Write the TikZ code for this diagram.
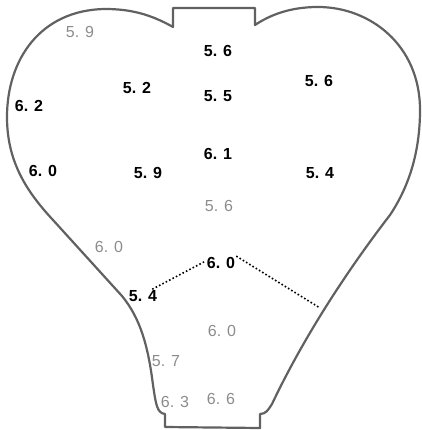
\documentclass[tikz,border=0pt]{standalone}
\usepackage{fontspec}
\setmainfont{Liberation Sans}
\usepackage{tikz}
\tikzset{
  wall/.style={draw=black!62, line width=2.2pt, line join=round},
  val/.style={text=black, font=\fontsize{16}{18}\selectfont\bfseries, inner sep=1pt},
  faint/.style={text=black!45, font=\fontsize{16}{18}\selectfont, inner sep=1pt},
  dots/.style={dash pattern=on 1.6pt off 2.2pt, line width=1.6pt, draw=black}
}

\begin{document}
\begin{tikzpicture}[x=1pt, y=-1pt]
  \useasboundingbox (0,0) rectangle (421,430);
  % outline of the room
  \draw[wall] (173,27) .. controls (150,14) and (130,9) .. (105,9)
    .. controls (40,10) and (7,60) .. (7,117)
    .. controls (7,160) and (25,190) .. (53,220)
    -- (122,296) .. controls (140,318) and (148,345) .. (153,385)
    .. controls (156,405) and (157,413) .. (165,414)
    -- (165,427) -- (260,428) -- (260,414)
    .. controls (266,414) and (268,410) .. (272,404)
    .. controls (300,345) and (340,280) .. (390,215)
    .. controls (410,185) and (420,150) .. (420,110)
    .. controls (420,45) and (370,7) .. (318,7)
    .. controls (290,7) and (270,15) .. (255,25)
    -- (255,8) -- (173,8) -- cycle;

  \node[faint] (tl59) at (80,32) {5. 9};
  \node[val] (top56) at (218,51) {5. 6};
  \node[val] (l52) at (137,88) {5. 2};
  \node[val] (c55) at (218,96) {5. 5};
  \node[val] (r56) at (319,81) {5. 6};
  \node[val] (l62) at (29,106) {6. 2};
  \node[val] (c61) at (218,154) {6. 1};
  \node[val] (l60) at (43,171) {6. 0};
  \node[val] (m59) at (148,173) {5. 9};
  \node[val] (r54) at (320,173) {5. 4};
  \node[faint] (c56) at (219,206) {5. 6};
  \node[faint] (ll60) at (109,247) {6. 0};
  \node[val] (mid60) at (221,263) {6. 0};
  \node[val] (ll54) at (143,296) {5. 4};
  \node[faint] (lo60) at (222,331) {6. 0};
  \node[faint] (lo57) at (166,361) {5. 7};
  \node[faint] (lo63) at (175,402) {6. 3};
  \node[faint] (lo66) at (221,399) {6. 6};

  \coordinate (wallR) at (320,308);
  \draw[dots] ([xshift=-6pt]ll54.north east) -- ([yshift=2pt]mid60.west);
  \draw[dots] (mid60.north east) -- (wallR);
\end{tikzpicture}
\end{document}
